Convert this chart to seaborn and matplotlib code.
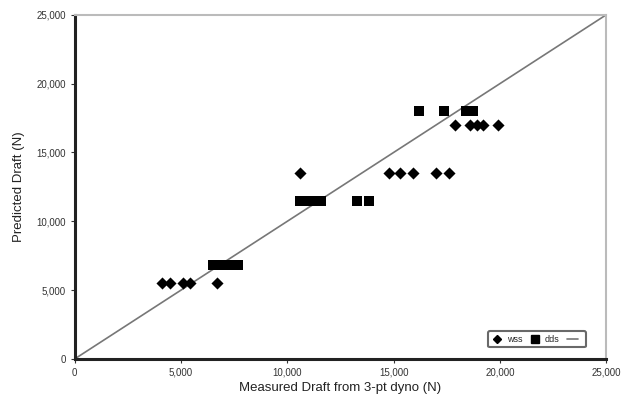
import matplotlib
matplotlib.use("Agg")
import matplotlib.pyplot as plt
import seaborn as sns
import pandas as pd
from matplotlib.lines import Line2D
from matplotlib.ticker import FuncFormatter

# dados
wss_x = [4100, 4500, 5100, 5400, 6700, 10600,
         14800, 15300, 15900, 17000, 17600,
         17900, 18600, 18900, 19200, 19900]
wss_y = [5500, 5500, 5500, 5500, 5500, 13500,
         13500, 13500, 13500, 13500, 13500,
         17000, 17000, 17000, 17000, 17000]
dds_x = [6500, 6750, 7000, 7250, 7500, 7700,
         10600, 10850, 11100, 11350, 11600, 13300, 13850,
         16200, 17350, 18400, 18750]
dds_y = [6800, 6800, 6800, 6800, 6800, 6800,
         11500, 11500, 11500, 11500, 11500, 11500, 11500,
         18000, 18000, 18000, 18000]
linha_x = [0, 25000]
linha_y = [0, 25000]
ticks = [0, 5000, 10000, 15000, 20000, 25000]

wss = pd.DataFrame({'x': wss_x, 'y': wss_y})
dds = pd.DataFrame({'x': dds_x, 'y': dds_y})

sns.set_style("white")
plt.rcParams['font.family'] = ['Liberation Sans', 'DejaVu Sans']

fig = plt.figure(figsize=(6.23, 4.01), dpi=100)
ax = fig.add_axes([0.120, 0.105, 0.853, 0.858])

# linha 1:1
sns.lineplot(x=linha_x, y=linha_y, ax=ax, color='#777777', linewidth=1.2, zorder=1)

sns.scatterplot(data=wss, x='x', y='y', marker='D', color='black', s=38,
                linewidth=0, ax=ax, zorder=3)
sns.scatterplot(data=dds, x='x', y='y', marker='s', color='black', s=62,
                linewidth=0, ax=ax, zorder=3)

ax.set_xlim(0, 25000)
ax.set_ylim(0, 25000)
ax.set_xticks(ticks)
ax.set_yticks(ticks)
fmt = FuncFormatter(lambda v, p: f'{int(v):,}')
ax.xaxis.set_major_formatter(fmt)
ax.yaxis.set_major_formatter(fmt)
ax.tick_params(axis='both', labelsize=7, colors='#333333', direction='out',
               length=3, width=0.8, left=True, bottom=True)

ax.set_xlabel('Measured Draft from 3-pt dyno (N)', fontsize=9.5, color='#222222', labelpad=3)
ax.set_ylabel('Predicted Draft (N)', fontsize=9.5, color='#222222', labelpad=8)

for lado in ['left', 'bottom']:
    ax.spines[lado].set_color('#222222')
    ax.spines[lado].set_linewidth(2.2)
for lado in ['top', 'right']:
    ax.spines[lado].set_color('#bbbbbb')
    ax.spines[lado].set_linewidth(1.5)

handles = [
    Line2D([], [], marker='D', color='black', linestyle='none', markersize=4.5),
    Line2D([], [], marker='s', color='black', linestyle='none', markersize=6),
    Line2D([], [], color='#777777', linewidth=1.2),
]
leg = ax.legend(handles, ['wss', 'dds', ''], loc='lower right', ncol=3,
                fontsize=6.5, frameon=True, handlelength=1.2, handletextpad=0.5,
                columnspacing=0.8, borderpad=0.4, fancybox=True,
                bbox_to_anchor=(0.97, 0.02))
leg.get_frame().set_edgecolor('#444444')
leg.get_frame().set_linewidth(1.5)

plt.savefig('out.png', dpi=100)
